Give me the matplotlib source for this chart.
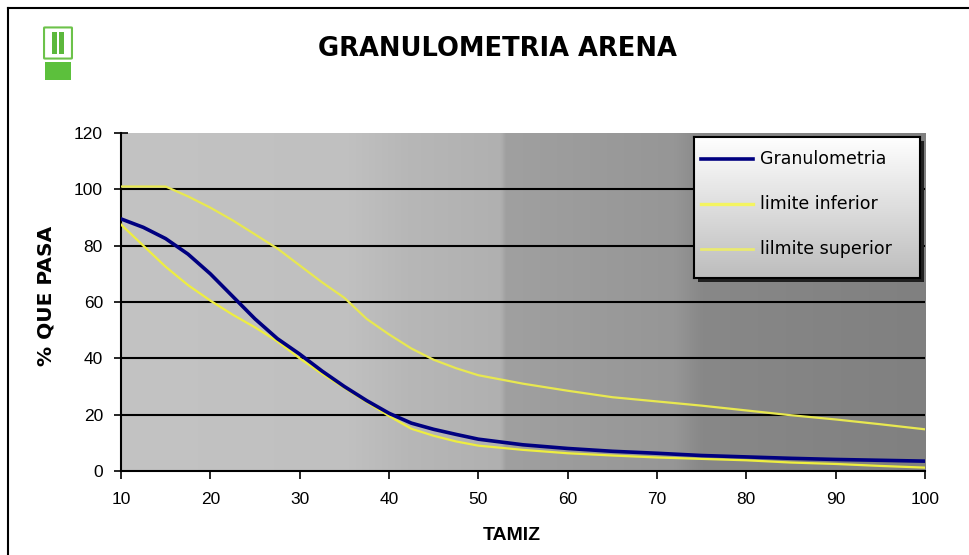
import numpy as np
import matplotlib
matplotlib.use('Agg')
import matplotlib.pyplot as plt
from matplotlib.patches import Rectangle, FancyBboxPatch
from matplotlib.lines import Line2D

tamiz = [10, 12.5, 15, 17.5, 20, 22.5, 25, 27.5, 30, 32.5, 35, 37.5, 40, 42.5,
         45, 47.5, 50, 55, 60, 65, 70, 75, 80, 85, 90, 95, 100]
granulometria = [89.5, 86.5, 82.5, 77, 70, 62, 54, 47, 41.5, 35.5, 30, 25, 20.5, 17,
                 14.8, 13, 11.3, 9.3, 8, 7, 6.3, 5.5, 5, 4.5, 4.1, 3.8, 3.5]
limite_inferior = [87.5, 80, 72.5, 66, 60.5, 55.5, 51, 46, 40, 34.5, 29.5, 24.5, 19.5, 15,
                   12.5, 10.5, 9, 7.5, 6.3, 5.5, 4.8, 4.3, 3.8, 3, 2.5, 1.8, 1.2]
limite_superior = [101, 101, 101, 97.5, 93.5, 89, 84, 79, 73, 67, 61.5, 54, 48.5, 43.5,
                   39.5, 36.5, 34, 31, 28.5, 26.2, 24.7, 23.2, 21.5, 19.8, 18.3, 16.6, 14.8]
series_names = ['Granulometria', 'limite inferior', 'lilmite superior']
x_ticks = [10, 20, 30, 40, 50, 60, 70, 80, 90, 100]
y_ticks = [0, 20, 40, 60, 80, 100, 120]

W, H = 969, 555
fig = plt.figure(figsize=(W / 100, H / 100), dpi=100)
fig.patch.set_facecolor('white')

def fx(px):
  return px / W

def fy(py):
  return 1 - py / H

# outer chart border (top and left visible)
fig.add_artist(Line2D([fx(8), 1], [fy(8), fy(8)], color='black', lw=1.5))
fig.add_artist(Line2D([fx(8), fx(8)], [fy(8), 0], color='black', lw=1.5))

# little green logo
fig.add_artist(FancyBboxPatch((fx(45), fy(58)), fx(26), 30 / H, boxstyle='round,pad=0.001',
                              facecolor='white', edgecolor='#6cc24a', lw=1.5))
fig.add_artist(Rectangle((fx(52), fy(54)), fx(5), 22 / H, facecolor='#5cb83c', edgecolor='none'))
fig.add_artist(Rectangle((fx(59), fy(54)), fx(5), 22 / H, facecolor='#5cb83c', edgecolor='none'))
fig.add_artist(Rectangle((fx(45), fy(80)), fx(26), 18 / H, facecolor='#5cc03c', edgecolor='none'))

fig.text(fx(497), fy(49), 'GRANULOMETRIA ARENA', ha='center', va='center',
         fontsize=18.5, fontweight='bold', family=['DejaVu Sans'])

left, right, top, bottom = 121, 925, 133, 471
ax = fig.add_axes([fx(left), fy(bottom), (right - left) / W, (bottom - top) / H])

# gray gradient background of the plot area
tt = np.linspace(10, 100, 400)
shade = np.interp(tt, [10, 35.5, 42, 52.5, 53, 72, 75, 100],
                  [195, 192, 183, 176, 160, 150, 136, 128]) / 255
grad = np.stack([shade, shade, shade], axis=-1)[None, :, :]
ax.imshow(grad, extent=[10, 100, 0, 120], aspect='auto', zorder=0, interpolation='bilinear')

for yv in y_ticks[1:-1]:
  ax.axhline(yv, color='black', lw=1.5, zorder=1)

ax.plot(tamiz, limite_inferior, color='#eeee40', lw=1.6, zorder=3)
ax.plot(tamiz, limite_superior, color='#e8e850', lw=1.6, zorder=3)
ax.plot(tamiz, granulometria, color='#000080', lw=2.6, zorder=4)

ax.set_xlim(10, 100)
ax.set_ylim(0, 120)
ax.set_xticks(x_ticks)
ax.set_yticks(y_ticks)
tick_font = ['Liberation Sans Narrow', 'Liberation Sans', 'DejaVu Sans']
for lab in ax.get_xticklabels() + ax.get_yticklabels():
  lab.set_family(tick_font)
  lab.set_fontsize(12.5)
ax.tick_params(axis='x', direction='out', length=6, width=1.2, pad=9)
ax.tick_params(axis='y', direction='inout', length=10, width=1.2, pad=8)
for s in ['top', 'right']:
  ax.spines[s].set_visible(False)
for s in ['left', 'bottom']:
  ax.spines[s].set_linewidth(1.5)

fig.text(fx(46), fy(296), '% QUE PASA', rotation=90, ha='center', va='center',
         fontsize=14.5, fontweight='bold', family=['DejaVu Sans'])
fig.text(fx(512), fy(535), 'TAMIZ', ha='center', va='center',
         fontsize=14, fontweight='bold', family=['Liberation Sans Narrow', 'Liberation Sans', 'DejaVu Sans'])

# legend drawn by hand: shadow, gradient box, sample lines
lx0, lx1, ly0, ly1 = 694, 920, 137, 278
fig.add_artist(Rectangle((fx(lx0 + 4), fy(ly1 + 4)), (lx1 - lx0) / W, (ly1 - ly0) / H,
                         facecolor='#202020', edgecolor='none', zorder=5))
lax = fig.add_axes([fx(lx0), fy(ly1), (lx1 - lx0) / W, (ly1 - ly0) / H], zorder=6)
lg = np.linspace(1.0, 0.74, 100)
lax.imshow(np.stack([lg, lg, lg], axis=-1)[:, None, :], extent=[0, 1, 0, 1],
           aspect='auto', interpolation='bilinear')
lax.set_xlim(0, 1)
lax.set_ylim(0, 1)
lax.set_xticks([])
lax.set_yticks([])
for s in lax.spines.values():
  s.set_linewidth(1.5)
  s.set_color('black')
legend_styles = [('#000080', 2.6), ('#f4f460', 2.4), ('#eaea70', 2.0)]
for i, name in enumerate(series_names):
  yy = 1 - (i * 45 + 22) / (ly1 - ly0)
  col, lw = legend_styles[i]
  lax.plot([0.03, 0.26], [yy, yy], color=col, lw=lw)
  lax.text(0.29, yy, name, va='center', ha='left', fontsize=12.5,
           family=['DejaVu Sans'])

fig.savefig('out.png', dpi=100)
